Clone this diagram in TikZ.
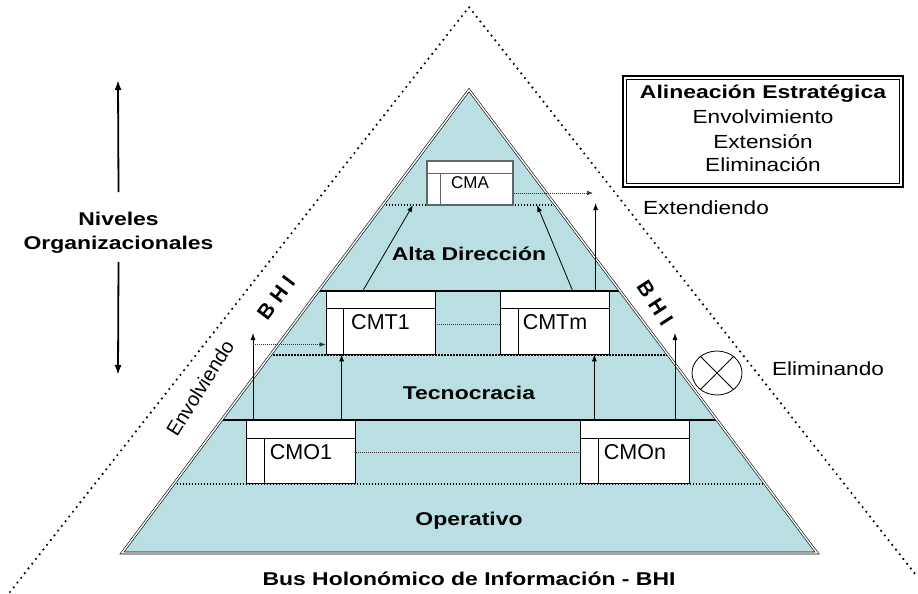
\documentclass[tikz,border=0pt]{standalone}
\usepackage{fontspec}
\setmainfont{Liberation Sans}
\usetikzlibrary{arrows.meta, positioning, calc, shapes.geometric}

\begin{document}
\begin{tikzpicture}[
    x=1pt, y=-1pt,
    every node/.style={inner sep=0pt},
]

% ---------------------------------------------------------------- colours
\definecolor{pyrfill}{HTML}{BADFE2}   % the body of the pyramid
\definecolor{cmagrey}{HTML}{5E6868}   % frame of the top box
\definecolor{dotgrey}{HTML}{333333}

% ---------------------------------------------------------------- styles
\tikzset{
    lvltext/.style={font=\fontsize{18.5}{24}\selectfont\bfseries, xscale=1.24},
    bhitext/.style={font=\fontsize{21}{24}\selectfont\bfseries},
    sidetext/.style={font=\fontsize{19}{24}\selectfont, xscale=1.19},
    cmbox/.style={draw=black, fill=white, line width=0.8pt,
                  minimum width=109pt, minimum height=63pt,
                  font=\fontsize{21.5}{24}\selectfont},
    pyredge/.style={draw=black, line width=0.6pt, double=white,
                    double distance=1.4pt},
    lvlline/.style={line width=1.4pt},
    lvldots/.style={line width=1.3pt, dash pattern=on 1.3pt off 1.7pt},
    thindots/.style={dotgrey, line width=0.6pt, dash pattern=on 1pt off 1pt},
    wedgedots/.style={line width=2.4pt, line cap=round,
                      dash pattern=on 0pt off 6pt},
    uarr/.style={line width=0.8pt, -{Latex[length=7pt, width=5pt]}},
    nivarrow/.style={line width=1.8pt, -{Latex[length=10pt, width=7pt]}},
}

\useasboundingbox (0,0) rectangle (918,594);

% ---------------------------------------------------------------- outer wedge
\coordinate (otop) at (469,7);
\coordinate (oleft) at (10,592);
\coordinate (oright) at (916,575);
\draw[wedgedots] (oleft) -- (otop) -- (oright);

% ---------------------------------------------------------------- pyramid
\coordinate (apex) at (469,90);
\coordinate (bl) at (122,553);
\coordinate (br) at (817,553);
\fill[pyrfill] (apex) -- (bl) -- (br) -- cycle;

% level borders: dotted under each row of boxes, solid between the rows
\foreach \yy in {205,355,484}
    \draw[lvldots] ($(apex)!{(\yy-90)/463}!(bl)$) -- ($(apex)!{(\yy-90)/463}!(br)$);
\foreach \yy in {291,420}
    \draw[lvlline] ($(apex)!{(\yy-90)/463}!(bl)$) -- ($(apex)!{(\yy-90)/463}!(br)$);

\draw[pyredge] (apex) -- (bl) -- (br) -- cycle;

% ---------------------------------------------------------------- CM boxes
\node[cmbox, draw=cmagrey, line width=1.2pt, minimum width=86pt,
      minimum height=44pt, font=\fontsize{17}{18}\selectfont]
      (cma) at (470,183) {CMA};
\node[cmbox] (cmt1) at (380.5,322.5) {CMT1};
\node[cmbox] (cmtm) at (555,322.5) {CMTm};
\node[cmbox] (cmo1) at (301,452) {CMO1};
\node[cmbox] (cmon) at (635,452) {CMOn};

\draw[cmagrey, line width=1pt] ([yshift=-13pt]cma.north west) -- ([yshift=-13pt]cma.north east);
\draw[cmagrey, line width=1pt] ([xshift=14pt, yshift=-13pt]cma.north west) -- ([xshift=14pt]cma.south west);
\foreach \b in {cmt1, cmtm, cmo1, cmon} {
    \draw[line width=0.8pt] ([yshift=-18pt]\b.north west) -- ([yshift=-18pt]\b.north east);
    \draw[line width=0.8pt] ([xshift=18pt, yshift=-18pt]\b.north west) -- ([xshift=18pt]\b.south west);
}

% links between boxes of one level
\draw[thindots] ([yshift=-2pt]cmt1.east) -- ([yshift=-2pt]cmtm.west);
\draw[thindots] (cmo1.east) -- (cmon.west);

% ---------------------------------------------------------------- arrows
% operativo -> tecnocracia
\path ($(cmo1.north west)!0.87!(cmo1.north east)$) coordinate (o1up);
\path ($(cmon.north west)!0.13!(cmon.north east)$) coordinate (onup);
\draw[uarr] (o1up) -- (o1up |- cmt1.south);
\draw[uarr] (onup) -- (onup |- cmtm.south);

% the two that leave the pyramid
\coordinate (envtip) at (253,333);
\coordinate (elimtip) at (675,333);
\draw[uarr] (envtip |- cmo1.north) -- (envtip);
\draw[uarr] (elimtip |- cmon.north) -- (elimtip);
\coordinate (cmt1in) at ([yshift=-22pt]cmt1.west);
\draw[thindots, -{Latex[length=6pt, width=4.5pt]}] (envtip |- cmt1in) -- (cmt1in);

% tecnocracia -> alta direccion
\path ($(cmt1.north west)!0.34!(cmt1.north east)$) coordinate (t1up);
\path ($(cmtm.north west)!0.66!(cmtm.north east)$) coordinate (tmup);
\coordinate (cmaleft) at (413,205);
\coordinate (cmaright) at (537,205);
\draw[uarr] (t1up) -- (cmaleft);
\draw[uarr] (tmup) -- (cmaright);

\path ($(cmtm.north west)!0.87!(cmtm.north east)$) coordinate (tmext);
\coordinate (exttip) at (595,203);
\draw[uarr] (tmext) -- (tmext |- exttip);
\coordinate (extend) at (593,193);
\draw[thindots, -{Latex[length=6pt, width=4.5pt]}] ([yshift=-10pt]cma.east) -- (extend);

% ---------------------------------------------------------------- level names
\node[lvltext, anchor=base] (alta) at (469,260) {Alta Dirección};
\node[lvltext, anchor=base] (tecno) at (469,399) {Tecnocracia};
\node[lvltext, anchor=base] (oper) at (469,525.5) {Operativo};
\node[lvltext, anchor=base] (bus) at (469,585) {Bus Holonómico de Información - BHI};

% ---------------------------------------------------------------- side labels
\node[bhitext, rotate=53] (bhil) at (276,298) {B H I};
\node[bhitext, rotate=-57] (bhir) at (655,303) {B H I};
\node[font=\fontsize{20}{24}\selectfont, rotate=58] (envol) at (200,388) {Envolviendo};
\node[sidetext, anchor=base] (extd) at (706,214) {Extendiendo};
\node[sidetext, anchor=base] (elimd) at (828,375) {Eliminando};

\node[draw, ellipse, line width=0.8pt, minimum width=50pt, minimum height=44pt]
    (elim) at (717,373) {};
\draw[line width=0.8pt] (elim.45) -- (elim.225);
\draw[line width=0.8pt] (elim.135) -- (elim.315);

% ---------------------------------------------------------------- legend box
\node[draw, line width=2pt, minimum width=280pt, minimum height=111pt]
    (alin) at (763,131.5) {};
\draw[line width=0.8pt] ([shift={(4.5,4.5)}]alin.north west) rectangle ([shift={(-4.5,-4.5)}]alin.south east);
\node[lvltext, anchor=base] (alint) at (763,98.5) {Alineación Estratégica};
\node[sidetext, anchor=base] (alin1) at (763,123) {Envolvimiento};
\node[sidetext, anchor=base] (alin2) at (763,148) {Extensión};
\node[sidetext, anchor=base] (alin3) at (763,171.5) {Eliminación};

% ---------------------------------------------------------------- niveles
\node[lvltext, align=center] (niv) at (118.5,233) {Niveles\\Organizacionales};
\coordinate (nivtop) at (118,80);
\coordinate (nivbot) at (118,375);
\draw[nivarrow] ([yshift=20pt]niv.north) -- (nivtop);
\draw[nivarrow] ([yshift=-8pt]niv.south) -- (nivbot);

\end{tikzpicture}
\end{document}
